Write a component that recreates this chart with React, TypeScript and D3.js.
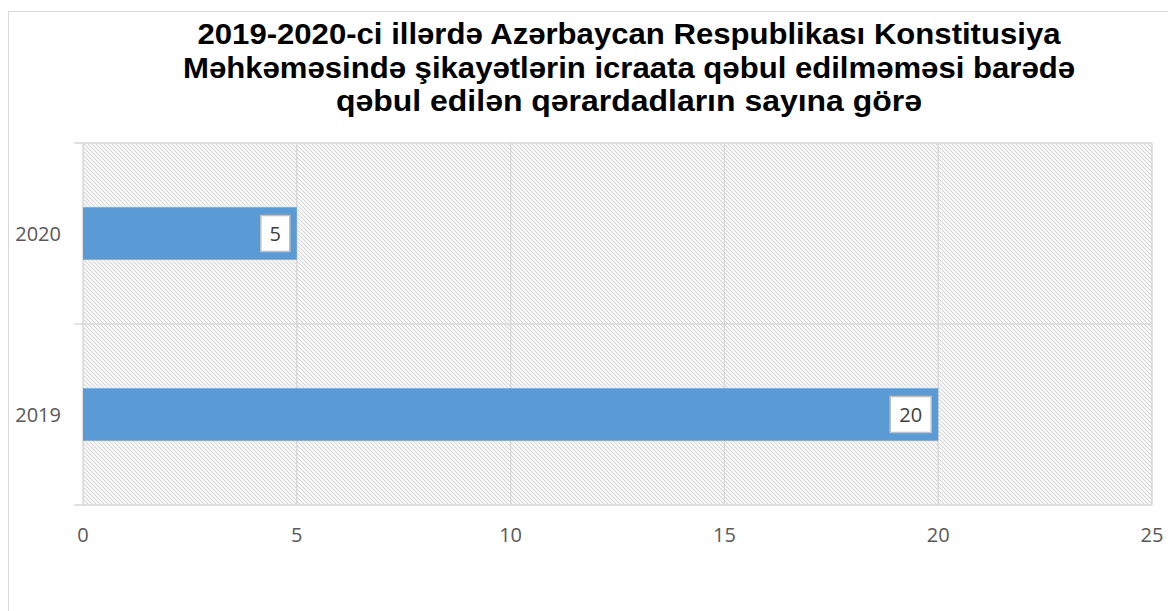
import React from "react";
import * as d3 from "d3";

const categories = ["2019", "2020"];
const values = [20, 5];
const xTicks = [0, 5, 10, 15, 20, 25];
const titleLines = [
  "2019-2020-ci illərdə Azərbaycan Respublikası Konstitusiya",
  "Məhkəməsində şikayətlərin icraata qəbul edilməməsi barədə",
  "qəbul edilən qərardadların sayına görə",
];
const titleWidths = [863, 892, 586];

const W = 1168;
const H = 611;
const plot = { left: 83, right: 1152, top: 143, bottom: 505 };

export default function App() {
  const x = d3.scaleLinear().domain([0, 25]).range([plot.left, plot.right]);
  const y = d3
    .scaleBand<string>()
    .domain([...categories].reverse())
    .range([plot.top, plot.bottom])
    .paddingInner(0)
    .paddingOuter(0);
  const bandH = y.bandwidth();
  const barH = bandH * 0.29;
  const grid = "#d9d9d9";
  const labelFont = "'Open Sans', 'Liberation Sans', sans-serif";

  const boundaries = [plot.top, ...categories.map((c) => (y(c) as number) + bandH)];

  return (
    <svg
      width={W}
      height={H}
      style={{ position: "absolute", left: 0, top: 0, background: "#fff" }}
    >
      <defs>
        <pattern id="hatch" width="4" height="4" patternUnits="userSpaceOnUse">
          <rect width="4" height="4" fill="#ffffff" />
          <path d="M-1,-1 L5,5 M-1,3 L1,5 M3,-1 L5,1" stroke="#d4d4d4" strokeWidth="1.1" />
        </pattern>
      </defs>
      <rect x={8.5} y={11.5} width={W + 20} height={H + 20} fill="#fff" stroke={grid} strokeWidth={1} />

      {titleLines.map((t, i) => (
        <text
          key={"t" + i}
          x={629}
          y={44 + i * 33.5}
          textAnchor="middle"
          fontFamily="'Liberation Sans', Arial, sans-serif"
          fontWeight="bold"
          fontSize={29}
          fill="#000"
          textLength={titleWidths[i]}
          lengthAdjust="spacingAndGlyphs"
        >
          {t}
        </text>
      ))}

      <rect
        x={plot.left}
        y={plot.top}
        width={plot.right - plot.left}
        height={plot.bottom - plot.top}
        fill="url(#hatch)"
      />

      {xTicks.map((t) => (
        <line
          key={"v" + t}
          x1={x(t)}
          x2={x(t)}
          y1={plot.top}
          y2={plot.bottom}
          stroke={grid}
          strokeWidth={1.5}
        />
      ))}
      {boundaries.map((b, i) => (
        <line
          key={"h" + i}
          x1={74}
          x2={plot.right}
          y1={b}
          y2={b}
          stroke={grid}
          strokeWidth={1.5}
        />
      ))}

      {categories.map((c, i) => {
        const cy = (y(c) as number) + bandH / 2;
        return (
          <rect
            key={"b" + c}
            x={x(0)}
            y={cy - barH / 2}
            width={x(values[i]) - x(0)}
            height={barH}
            fill="#5B9BD5"
          />
        );
      })}

      {categories.map((c, i) => {
        const cy = (y(c) as number) + bandH / 2;
        const txt = String(values[i]);
        const bw = txt.length === 1 ? 29 : 41;
        const bh = 36;
        const right = x(values[i]) - 7;
        return (
          <g key={"l" + c}>
            <rect
              x={right - bw}
              y={cy - bh / 2}
              width={bw}
              height={bh}
              fill="#fff"
              stroke="#bfbfbf"
              strokeWidth={1.5}
            />
            <text
              x={right - bw / 2}
              y={cy + 7}
              textAnchor="middle"
              fontFamily={labelFont}
              fontSize={20}
              fill="#404040"
            >
              {txt}
            </text>
          </g>
        );
      })}

      {categories.map((c) => (
        <text
          key={"y" + c}
          x={61}
          y={(y(c) as number) + bandH / 2 + 7}
          textAnchor="end"
          fontFamily={labelFont}
          fontSize={20}
          fill="#595959"
        >
          {c}
        </text>
      ))}

      {xTicks.map((t) => (
        <text
          key={"x" + t}
          x={x(t)}
          y={542}
          textAnchor="middle"
          fontFamily={labelFont}
          fontSize={20}
          fill="#595959"
        >
          {t}
        </text>
      ))}
    </svg>
  );
}
